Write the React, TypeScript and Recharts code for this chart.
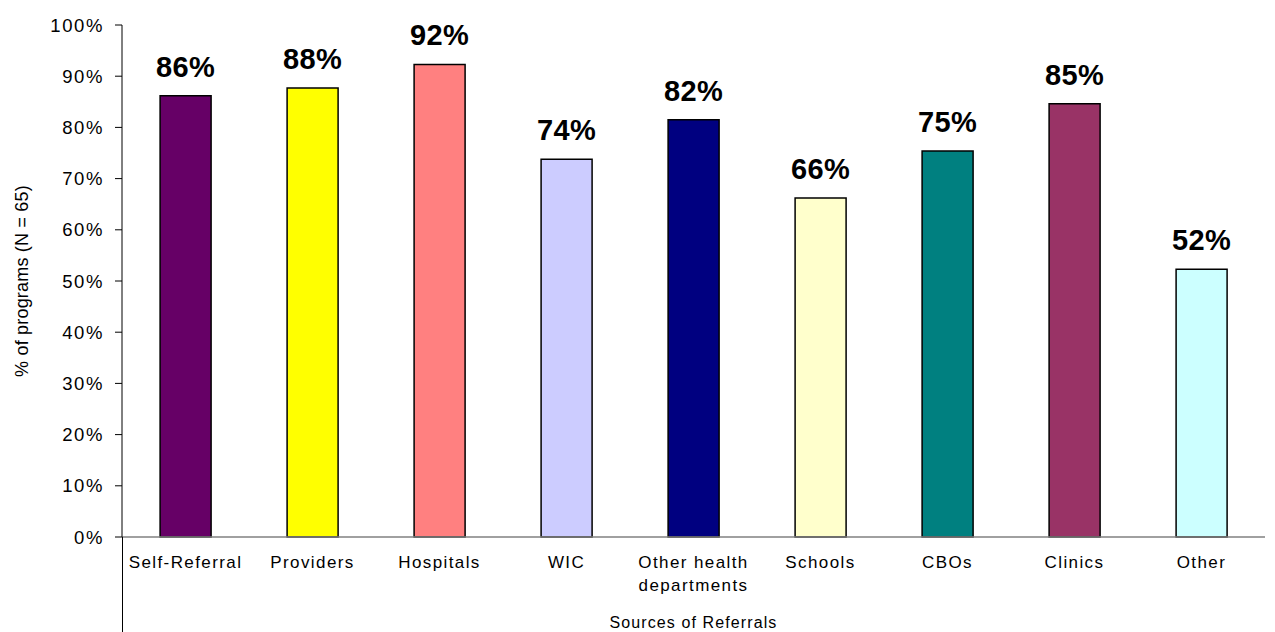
import React from "react";
import { BarChart, Bar, XAxis, YAxis, Cell, LabelList } from "recharts";

const categories = [
  "Self-Referral",
  "Providers",
  "Hospitals",
  "WIC",
  "Other health departments",
  "Schools",
  "CBOs",
  "Clinics",
  "Other",
];
const shares = [86.2, 87.7, 92.3, 73.8, 81.5, 66.2, 75.4, 84.6, 52.3];
const barColors = [
  "#660066",
  "#FFFF00",
  "#FF8080",
  "#CCCCFF",
  "#000080",
  "#FFFFCC",
  "#008080",
  "#993366",
  "#CCFFFF",
];
const yTicks = [0, 10, 20, 30, 40, 50, 60, 70, 80, 90, 100];

const data = categories.map((name, i) => ({ name, value: shares[i] }));

const font = "'Liberation Sans', Arial, sans-serif";

const CategoryTick = (props: any) => {
  const { x, y, payload } = props;
  const label: string = payload.value;
  const lines =
    label === "Other health departments" ? ["Other health", "departments"] : [label];
  return (
    <g>
      {lines.map((line, i) => (
        <text
          key={i}
          x={x}
          y={y + 17 + i * 23}
          textAnchor="middle"
          dominantBaseline="central"
          fontFamily={font}
          fontSize={17}
          letterSpacing={1.4}
          fill="#000"
        >
          {line}
        </text>
      ))}
    </g>
  );
};

export default function App() {
  return (
    <div style={{ position: "absolute", left: 0, top: 0, width: 1275, height: 632, background: "#fff" }}>
      <BarChart
        width={1275}
        height={632}
        data={data}
        margin={{ top: 25, right: 10, bottom: 0, left: 0 }}
        barCategoryGap="30%"
      >
        <XAxis
          dataKey="name"
          height={95}
          interval={0}
          tickLine={false}
          axisLine={{ stroke: "#808080", strokeWidth: 1.5 }}
          tick={<CategoryTick />}
          label={{
            value: "Sources of Referrals",
            position: "insideBottom",
            offset: 4,
            style: { fontFamily: font, fontSize: 16, letterSpacing: 1.1, fill: "#000" },
          }}
        />
        <YAxis
          width={122}
          domain={[0, 100]}
          ticks={yTicks}
          interval={0}
          tickFormatter={(v) => `${v}%`}
          tickSize={7}
          tickMargin={11}
          axisLine={{ stroke: "#000" }}
          tickLine={{ stroke: "#000" }}
          tick={{ fontFamily: font, fontSize: 18.5, fill: "#000", letterSpacing: 1.6 }}
          label={{
            value: "% of programs (N = 65)",
            angle: -90,
            position: "insideLeft",
            offset: 22,
            style: { fontFamily: font, fontSize: 18, fill: "#000", textAnchor: "middle", letterSpacing: 0.2 },
          }}
        />
        <Bar dataKey="value" isAnimationActive={false} stroke="#000" strokeWidth={1.5}>
          {data.map((d, i) => (
            <Cell key={d.name} fill={barColors[i]} />
          ))}
          <LabelList
            dataKey="value"
            position="top"
            offset={19}
            formatter={(v: any) => `${Math.round(v)}%`}
            style={{ fontFamily: font, fontSize: 29, fontWeight: "bold", fill: "#000", letterSpacing: 0.3 }}
          />
        </Bar>
      </BarChart>
      <div
        style={{
          position: "absolute",
          left: 121.5,
          top: 537,
          width: 1,
          height: 95,
          background: "#000",
        }}
      />
    </div>
  );
}
